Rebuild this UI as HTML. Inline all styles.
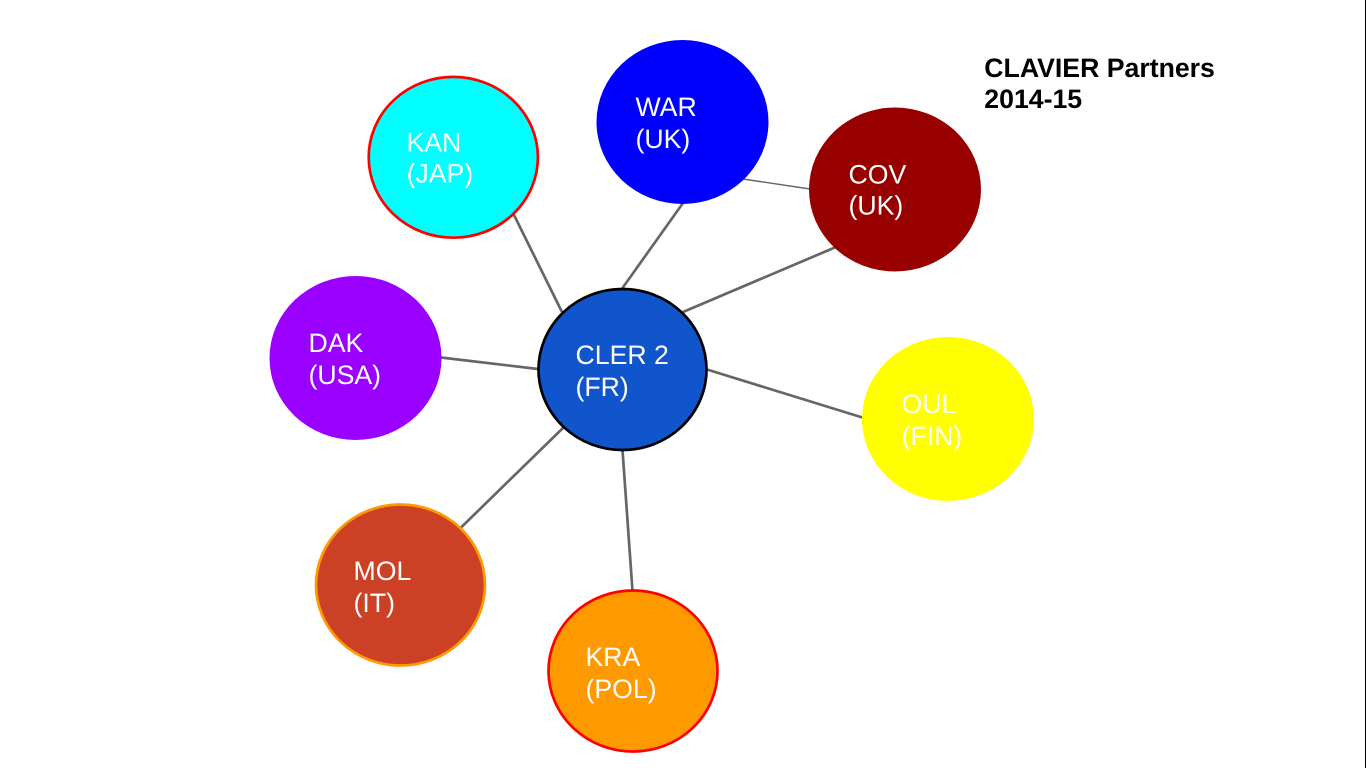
<!DOCTYPE html>
<html>
<head>
<meta charset="utf-8">
<style>
html,body{margin:0;padding:0;background:#fff;width:1366px;height:768px;overflow:hidden}
svg{display:block}
text{text-rendering:geometricPrecision}
.n{font-family:"Liberation Sans",sans-serif;font-size:26.67px;fill:#fff}
.t{font-family:"Liberation Sans",sans-serif;font-size:26.67px;font-weight:bold;fill:#000}
</style>
</head>
<body>
<svg width="1366" height="768" viewBox="0 0 1366 768" xmlns="http://www.w3.org/2000/svg">
<rect width="1366" height="768" fill="#fff"/>
<rect x="1365" y="0" width="1" height="768" fill="#000"/>
<g stroke="#666" stroke-width="2.7" fill="none">
<line x1="514" y1="215" x2="562" y2="312"/>
<line x1="683" y1="203" x2="622.500" y2="288"/>
<line x1="836" y1="247" x2="683" y2="312"/>
<line x1="441" y1="357.500" x2="538" y2="369"/>
<line x1="707" y1="369.500" x2="864" y2="418"/>
<line x1="564" y1="427" x2="460.500" y2="528"/>
<line x1="622.500" y1="450" x2="632.500" y2="591"/>
<line x1="743" y1="179" x2="810" y2="189" stroke-width="1.4"/>
</g>
<ellipse cx="453.300" cy="157.300" rx="84.600" ry="80.400" fill="#00ffff" stroke="#ff0000" stroke-width="2.7"/>
<ellipse cx="682.500" cy="122" rx="86" ry="82" fill="#0000ff"/>
<ellipse cx="895" cy="189.500" rx="86" ry="82" fill="#980000"/>
<ellipse cx="355.500" cy="358" rx="86" ry="82" fill="#9900ff"/>
<ellipse cx="948" cy="419" rx="86" ry="82" fill="#ffff00"/>
<ellipse cx="622.500" cy="369.500" rx="84" ry="80.500" fill="#1155cc" stroke="#000" stroke-width="2.7"/>
<ellipse cx="400.500" cy="585" rx="84.500" ry="80.500" fill="#cc4125" stroke="#ff9900" stroke-width="2.7"/>
<ellipse cx="633" cy="671" rx="84.500" ry="80.500" fill="#ff9900" stroke="#ff0000" stroke-width="2.7"/>
<text class="n" x="406.500" y="151.500">KAN</text><text class="n" x="406.500" y="182.500">(JAP)</text>
<text class="n" x="635.500" y="116">WAR</text><text class="n" x="635.500" y="148">(UK)</text>
<text class="n" x="848.500" y="183.500">COV</text><text class="n" x="848.500" y="214.500">(UK)</text>
<text class="n" x="308.500" y="352">DAK</text><text class="n" x="308.500" y="384">(USA)</text>
<text class="n" x="901.500" y="413">OUL</text><text class="n" x="901.500" y="445">(FIN)</text>
<text class="n" x="575.500" y="364">CLER 2</text><text class="n" x="575.500" y="396">(FR)</text>
<text class="n" x="353.500" y="580">MOL</text><text class="n" x="353.500" y="612">(IT)</text>
<text class="n" x="585.500" y="666">KRA</text><text class="n" x="585.500" y="698">(POL)</text>
<text class="t" x="984.300" y="77">CLAVIER Partners</text>
<text class="t" x="984.300" y="108">2014-15</text>
</svg>
</body>
</html>
